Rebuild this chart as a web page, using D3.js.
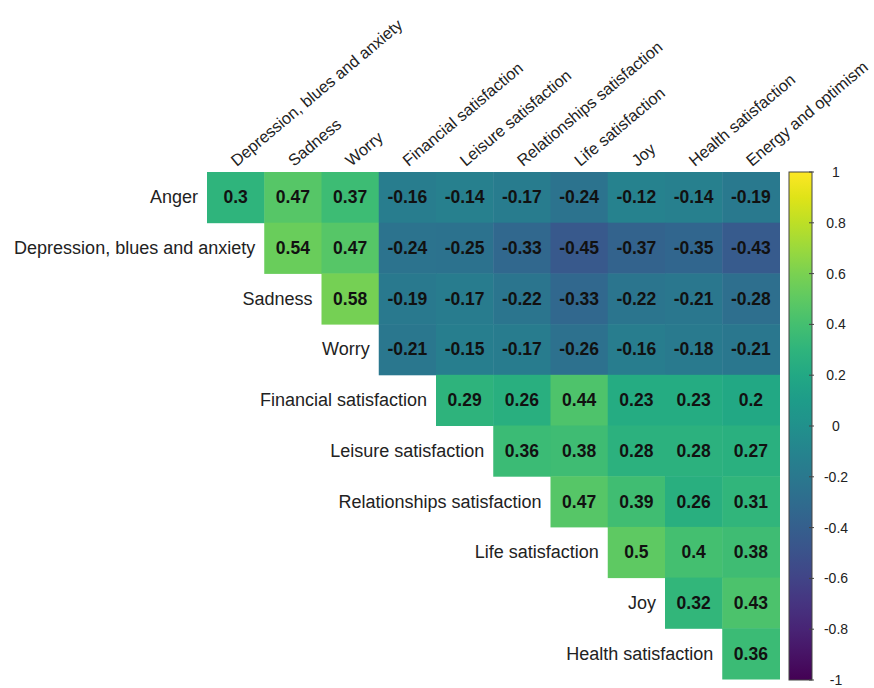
<!DOCTYPE html>
<html>
<head>
<meta charset="utf-8">
<script src="https://cdn.jsdelivr.net/npm/d3@7"></script>
<style>
  html, body { margin: 0; padding: 0; background: #fff; }
  svg { display: block; font-family: "Liberation Sans", Arial, sans-serif; }
</style>
</head>
<body>
<svg id="chart" width="874" height="688"></svg>
<script>
// Row variables (top to bottom) and column variables (left to right)
const rowVars = [
  "Anger",
  "Depression, blues and anxiety",
  "Sadness",
  "Worry",
  "Financial satisfaction",
  "Leisure satisfaction",
  "Relationships satisfaction",
  "Life satisfaction",
  "Joy",
  "Health satisfaction"
];
const colVars = [
  "Depression, blues and anxiety",
  "Sadness",
  "Worry",
  "Financial satisfaction",
  "Leisure satisfaction",
  "Relationships satisfaction",
  "Life satisfaction",
  "Joy",
  "Health satisfaction",
  "Energy and optimism"
];

// Upper-triangle correlations; row i starts at column i
const corrAnger         = [0.3, 0.47, 0.37, -0.16, -0.14, -0.17, -0.24, -0.12, -0.14, -0.19];
const corrDepression    = [0.54, 0.47, -0.24, -0.25, -0.33, -0.45, -0.37, -0.35, -0.43];
const corrSadness       = [0.58, -0.19, -0.17, -0.22, -0.33, -0.22, -0.21, -0.28];
const corrWorry         = [-0.21, -0.15, -0.17, -0.26, -0.16, -0.18, -0.21];
const corrFinancial     = [0.29, 0.26, 0.44, 0.23, 0.23, 0.2];
const corrLeisure       = [0.36, 0.38, 0.28, 0.28, 0.27];
const corrRelationships = [0.47, 0.39, 0.26, 0.31];
const corrLife          = [0.5, 0.4, 0.38];
const corrJoy           = [0.32, 0.43];
const corrHealth        = [0.36];

const corrRows = [corrAnger, corrDepression, corrSadness, corrWorry, corrFinancial,
                  corrLeisure, corrRelationships, corrLife, corrJoy, corrHealth];

const legendTicks = [1, 0.8, 0.6, 0.4, 0.2, 0, -0.2, -0.4, -0.6, -0.8, -1];

// Flatten into cells
const cells = [];
corrRows.forEach((vals, i) => {
  vals.forEach((v, k) => {
    cells.push({ row: rowVars[i], col: colVars[i + k], value: v });
  });
});

const svg = d3.select("#chart");

const x = d3.scaleBand().domain(colVars).range([207, 779.5]);
const y = d3.scaleBand().domain(rowVars).range([172, 679]);
const color = d3.scaleSequential(d3.interpolateViridis).domain([-1, 1]);

// Heatmap cells
const g = svg.append("g");
g.selectAll("rect.cell")
  .data(cells)
  .join("rect")
  .attr("class", "cell")
  .attr("x", d => x(d.col))
  .attr("y", d => y(d.row))
  .attr("width", x.bandwidth() + 0.5)
  .attr("height", y.bandwidth() + 0.5)
  .attr("fill", d => color(d.value));

// Value labels
g.selectAll("text.val")
  .data(cells)
  .join("text")
  .attr("class", "val")
  .attr("x", d => x(d.col) + x.bandwidth() / 2)
  .attr("y", d => y(d.row) + y.bandwidth() / 2)
  .attr("text-anchor", "middle")
  .attr("dominant-baseline", "central")
  .attr("font-size", 17.5)
  .attr("font-weight", "bold")
  .attr("fill", "#111")
  .text(d => String(d.value));

// Row labels, to the left of each row's first cell
svg.append("g").selectAll("text")
  .data(rowVars)
  .join("text")
  .attr("x", (d, i) => x(colVars[i]) - 9)
  .attr("y", d => y(d) + y.bandwidth() / 2)
  .attr("text-anchor", "end")
  .attr("dominant-baseline", "central")
  .attr("font-size", 18)
  .attr("fill", "#222")
  .text(d => d);

// Column labels, rotated above the grid
svg.append("g").selectAll("text")
  .data(colVars)
  .join("text")
  .attr("transform", d => `translate(${x(d) + x.bandwidth() / 2 + 1},${167}) rotate(-40)`)
  .attr("text-anchor", "start")
  .attr("font-size", 16.3)
  .attr("fill", "#222")
  .text(d => d);

// Colour bar
const barX = 789, barW = 23;
const cb = d3.scaleLinear().domain([-1, 1]).range([680, 172]);
const defs = svg.append("defs");
const grad = defs.append("linearGradient")
  .attr("id", "viridisGrad")
  .attr("x1", 0).attr("y1", 1).attr("x2", 0).attr("y2", 0);
d3.range(0, 1.0001, 0.05).forEach(t => {
  grad.append("stop")
    .attr("offset", t)
    .attr("stop-color", d3.interpolateViridis(t));
});
svg.append("rect")
  .attr("x", barX)
  .attr("y", cb(1))
  .attr("width", barW)
  .attr("height", cb(-1) - cb(1))
  .attr("fill", "url(#viridisGrad)")
  .attr("stroke", "#444")
  .attr("stroke-width", 1);

const legend = svg.append("g");
legend.selectAll("line")
  .data(legendTicks)
  .join("line")
  .attr("x1", barX + barW - 3)
  .attr("x2", barX + barW + 2)
  .attr("y1", d => cb(d))
  .attr("y2", d => cb(d))
  .attr("stroke", "#444")
  .attr("stroke-width", 1);
legend.selectAll("text")
  .data(legendTicks)
  .join("text")
  .attr("x", 836)
  .attr("y", d => cb(d))
  .attr("text-anchor", "middle")
  .attr("dominant-baseline", "central")
  .attr("font-size", 14)
  .attr("fill", "#222")
  .text(d => String(d));
</script>
</body>
</html>
